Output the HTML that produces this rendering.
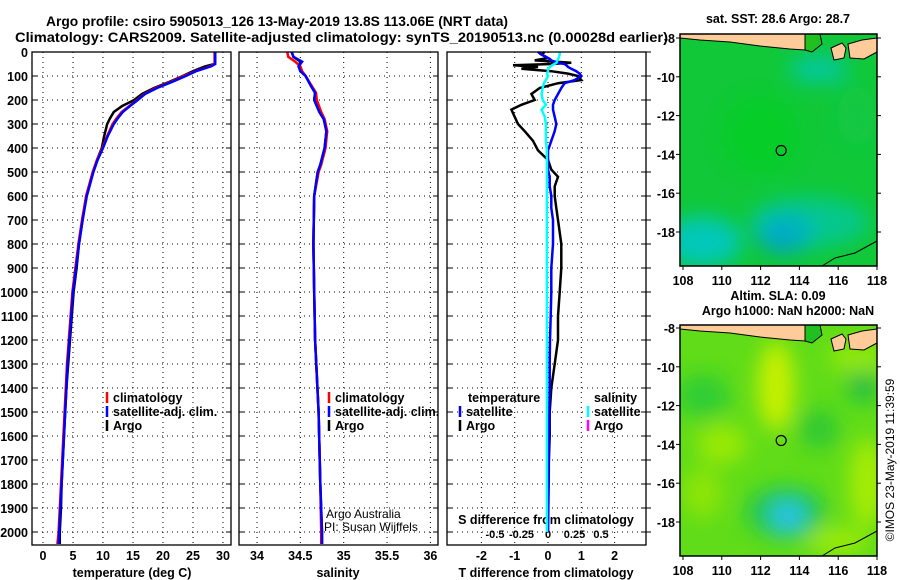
<!DOCTYPE html>
<html><head><meta charset="utf-8"><style>
html,body{margin:0;padding:0;background:#fff;}
svg{display:block;font-family:"Liberation Sans",sans-serif;}
.t{font-size:12.5px;font-weight:bold;fill:#000;}
.g{stroke:#000;stroke-width:1;stroke-dasharray:1,4;fill:none;}
</style></head><body>
<svg id="chart" width="900" height="580" viewBox="0 0 900 580" xmlns="http://www.w3.org/2000/svg">
<defs>
<clipPath id="c1"><rect x="680" y="34" width="197" height="232"/></clipPath>
<clipPath id="c2"><rect x="680" y="325" width="197" height="231"/></clipPath>
<filter id="bl" x="-50%" y="-50%" width="200%" height="200%"><feGaussianBlur stdDeviation="10"/></filter>
</defs>
<text class="t" x="277" y="26" text-anchor="middle" style="font-size:14px" textLength="462" lengthAdjust="spacingAndGlyphs">Argo profile: csiro 5905013_126 13-May-2019 13.8S 113.06E (NRT data)</text>
<text class="t" x="15" y="42" textLength="653" lengthAdjust="spacingAndGlyphs" style="font-size:14px">Climatology: CARS2009. Satellite-adjusted climatology: synTS_20190513.nc (0.00028d earlier)</text>
<g id="plots"></g>
<g id="maps"></g>
</svg>
<script>
// ---- data ----
const depthT = [0,20,40,50,60,80,100,125,150,175,200,225,250,275,300,350,400,450,500,600,700,800,900,1000,1100,1200,1300,1400,1500,1600,1700,1800,1900,2000,2050];
const climT = [28.6,28.6,28.6,28.6,27.8,25.4,23.5,21.3,18.8,16.9,15.7,14.4,13.1,12.3,11.6,10.7,9.9,9.0,8.3,7.2,6.5,5.9,5.4,4.9,4.6,4.3,4.0,3.8,3.6,3.4,3.2,3.0,2.8,2.6,2.4];
const satT = [28.7,28.7,28.7,28.7,28.0,25.5,23.8,21.5,19.0,17.0,15.8,14.5,13.3,12.5,11.8,10.8,10.0,9.1,8.4,7.3,6.6,6.0,5.5,5.0,4.7,4.4,4.1,3.9,3.7,3.5,3.3,3.1,2.9,2.7,2.6];
const argoT = [28.7,28.7,28.7,28.6,27.0,25.0,23.3,21.0,18.5,16.5,15.2,13.2,11.8,11.2,10.7,10.2,9.8,9.0,8.3,7.2,6.6,6.0,5.6,5.1,4.8,4.5,4.2,3.9,3.7,3.5,3.3,3.1,3.0,2.8,2.8];
const depthS = [0,20,40,60,80,100,140,170,200,250,280,330,400,470,500,600,800,1000,1200,1500,1800,2000,2050];
const climS = [34.35,34.36,34.44,34.5,34.52,34.56,34.63,34.68,34.69,34.74,34.78,34.81,34.79,34.74,34.71,34.66,34.65,34.66,34.67,34.71,34.73,34.74,34.74];
const satS = [34.4,34.42,34.52,34.48,34.5,34.56,34.62,34.67,34.66,34.72,34.77,34.8,34.78,34.73,34.7,34.66,34.65,34.66,34.67,34.71,34.73,34.75,34.75];
const argoS = [34.4,34.42,34.5,34.48,34.5,34.56,34.62,34.67,34.66,34.72,34.77,34.8,34.78,34.73,34.7,34.66,34.65,34.66,34.67,34.71,34.73,34.75,34.75];
const depthD = [0,10,25,35,45,50,55,62,70,80,90,100,117,130,150,175,200,220,240,270,300,330,370,410,450,490,520,560,600,650,700,800,900,1000,1100,1200,1300,1400,1500,1600,1800,2000];
const argoTd = [-0.1,-0.2,0.0,-0.4,0.7,0.1,-1.05,-0.3,-0.8,0.1,0.6,0.9,1.0,0.3,-0.25,-0.5,-0.4,-0.8,-1.1,-1.0,-0.9,-0.7,-0.45,-0.3,0.0,0.1,0.3,0.2,0.2,0.25,0.3,0.4,0.4,0.35,0.3,0.3,0.2,0.1,0.05,0.05,0.0,0.0];
const satTd = [-0.3,-0.2,0.0,0.1,0.3,0.5,0.55,0.6,0.7,0.85,0.95,1.0,0.8,0.5,0.4,0.3,0.2,0.15,0.15,0.2,0.25,0.2,0.1,0.0,0.0,0.0,0.05,0.05,0.1,0.1,0.15,0.15,0.1,0.1,0.08,0.06,0.05,0.05,0.04,0.03,0.02,0.0];
const argoSd = [0.11,0.11,0.1,0.09,0.08,0.06,0.04,0.02,0.0,0.0,-0.01,0.0,-0.02,-0.04,-0.05,-0.06,-0.05,-0.02,-0.06,-0.03,-0.02,-0.02,-0.02,-0.01,-0.01,-0.01,-0.01,-0.01,-0.01,-0.01,-0.01,-0.01,-0.01,-0.01,-0.01,-0.01,-0.01,-0.01,-0.01,-0.01,-0.01,-0.01];
const depthTicks = [0,100,200,300,400,500,600,700,800,900,1000,1100,1200,1300,1400,1500,1600,1700,1800,1900,2000];
const tempTicks = [0,5,10,15,20,25,30];
const salTicks = [34,34.5,35,35.5,36];
const tdTicks = [-2,-1,0,1,2];
const sdTicks = [-0.5,-0.25,0,0.25,0.5];
const sdTickLabels = ["-0.5","-0.25","0","0.25","0.5"];
const latTicks = [-8,-10,-12,-14,-16,-18];
const lonTicks = [108,110,112,114,116,118];
const argoLon = 113.06, argoLat = -13.8;

const NS="http://www.w3.org/2000/svg";
function mk(tag, attrs, parent, txt){const e=document.createElementNS(NS,tag);for(const k in attrs)e.setAttribute(k,attrs[k]);if(txt!==undefined)e.textContent=txt;parent.appendChild(e);return e;}
const P=document.getElementById('plots');
const yD = d => 52 + d*0.24;
const xT = v => 43 + v*6;
const xS = v => 257 + (v-34)*86.7;
const xTd = v => 548 + v*33.3;
const xSd = v => 548 + v*106;
const panels=[[32,231],[239,438],[447,646]];
const TOP=52,BOT=545;

panels.forEach((p,i)=>{
  depthTicks.forEach(d=>{ if(d>0){const l=mk('line',{x1:p[0],x2:p[1],y1:yD(d),y2:yD(d),class:'g'},P);
    
    }
    const tk=mk('line',{x1:p[0],x2:p[0]+5,y1:yD(d),y2:yD(d),stroke:'#000'},P);
    
    
    const tk2=mk('line',{x1:p[1]-5,x2:p[1]+(i==2?5:0),y1:yD(d),y2:yD(d),stroke:'#000'},P);
    
    
  });
});
function vgrid(ticks,fx,p){ticks.forEach(v=>{const l=mk('line',{x1:fx(v),x2:fx(v),y1:TOP,y2:BOT,class:'g'},P);
  
  });}
vgrid(tempTicks,xT);vgrid(salTicks,xS);vgrid(tdTicks,xTd);
depthTicks.forEach(d=>{const t=mk('text',{x:28,y:yD(d)+5,'text-anchor':'end',class:'t'},P,String(d));
  
  });
function xlab(ticks,fx,labels,y,fs){ticks.forEach((v,i)=>{const t=mk('text',{x:fx(v),y:y,'text-anchor':'middle',class:'t'},P,labels?labels[i]:String(v));
  if(fs)t.setAttribute('style','font-size:'+fs+'px');
  
  });}
xlab(tempTicks,xT,null,560);xlab(salTicks,xS,null,560);xlab(tdTicks,xTd,null,560);xlab(sdTicks,xSd,sdTickLabels,538,11);
[['temperature (deg C)',132,'x-axis-title-temperature'],['salinity',338,'x-axis-title-salinity'],['T difference from climatology',546,'x-axis-title-t-difference']].forEach(a=>{
  const t=mk('text',{x:a[1],y:577,'text-anchor':'middle',class:'t'},P,a[0]);
  
  });
const st=mk('text',{x:546,y:524,'text-anchor':'middle',class:'t'},P,'S difference from climatology');



function series(depths,vals,fx,color,w,name){let pts=[];depths.forEach((d,i)=>{if(vals[i]!==null)pts.push(fx(vals[i]).toFixed(1)+','+yD(Math.min(d,2054)).toFixed(1));});
  const l=mk('polyline',{points:pts.join(' '),fill:'none',stroke:color,'stroke-width':w,'stroke-linejoin':'miter'},P);
  
  }
series(depthT,argoT,xT,'#000',2.5,'temperature-argo-line');
series(depthT,climT,xT,'#ff0000',2.5,'temperature-climatology-line');
series(depthT,satT,xT,'#0000ff',2.5,'temperature-satellite-line');
series(depthS,argoS,xS,'#000',2.5,'salinity-argo-line');
series(depthS,climS,xS,'#ff0000',2.5,'salinity-climatology-line');
series(depthS,satS,xS,'#0000ff',2.5,'salinity-satellite-line');
series(depthD,argoTd,xTd,'#000',2.5,'t-diff-argo-line');
series(depthD,satTd,xTd,'#0000ff',2.5,'t-diff-satellite-line');
series(depthD,argoSd,xSd,'#00ffff',2.5,'s-diff-argo-line');

panels.forEach(p=>{const r=mk('rect',{x:p[0],y:TOP,width:p[1]-p[0],height:BOT-TOP,fill:'none',stroke:'#000','stroke-width':1.3},P);
  
  });

function legend(x,y,items,name){items.forEach((it,i)=>{
  const m=mk('line',{x1:x,x2:x,y1:y+i*14-6,y2:y+i*14+5,stroke:it[1],'stroke-width':2.5},P);
  
  
  const t=mk('text',{x:x+6,y:y+i*14+4,class:'t'},P,it[0]);
  
  });}
legend(107,398,[['climatology','#ff0000'],['satellite-adj. clim.','#0000ff'],['Argo','#000']],'temperature-legend');
legend(329,398,[['climatology','#ff0000'],['satellite-adj. clim.','#0000ff'],['Argo','#000']],'salinity-legend');
const lt=mk('text',{x:468,y:402,class:'t'},P,'temperature');


const ls=mk('text',{x:594,y:402,class:'t'},P,'salinity');


legend(460,412,[['satellite','#0000ff'],['Argo','#000']],'t-diff-legend');
legend(588,412,[['satellite','#00ffff'],['Argo','#ff00ff']],'s-diff-legend');
const c1=mk('text',{x:326,y:518,'font-size':12,fill:'#000'},P,'Argo Australia');


const c2=mk('text',{x:324,y:531,'font-size':12,fill:'#000'},P,'PI: Susan Wijffels');



const M=document.getElementById('maps');
function map(top,bot,latTop,clipId,base,blobs,name,title1,title2){
  const x0=680,x1=877;
  const lonX=v=>683+(v-108)*19.4;
  const latY=v=>latTop+(-8-v)*19.4;
  const g=mk('g',{'clip-path':'url(#'+clipId+')'},M);
  
  
  mk('rect',{x:x0,y:top,width:x1-x0,height:bot-top,fill:base},g);
  const bg=mk('g',{filter:'url(#bl)'},g);
  blobs.forEach(b=>mk('ellipse',{cx:lonX(b[0]),cy:latY(b[1]),rx:b[2],ry:b[3],fill:b[4],opacity:b[5]},bg));
  const land=mk('polygon',{points:`680,${top} 805,${top} 805,${top+16} 790,${top+15} 760,${top+12} 730,${top+8} 700,${top+6} 680,${top+4}`,fill:'#ffcc99',stroke:'#000','stroke-width':1},g);
  
  
  mk('polygon',{points:`805,${top} 820,${top} 822,${top+10} 812,${top+18} 805,${top+16}`,fill:'#20c020',stroke:'#000','stroke-width':1},g);
  const is1=mk('polygon',{points:`831,${top+14} 842,${top+9} 846,${top+14} 844,${top+24} 834,${top+26}`,fill:'#ffcc99',stroke:'#000','stroke-width':1},g);
  
  
  const is2=mk('polygon',{points:`848,${top+10} 862,${top+6} 877,${top+4} 877,${top+18} 864,${top+25} 850,${top+24}`,fill:'#ffcc99',stroke:'#000','stroke-width':1},g);
  
  
  mk('polyline',{points:`822,${bot} 835,${bot-8} 855,${bot-13} 877,${bot-25}`,fill:'none',stroke:'#000','stroke-width':1},g);
  const fr=mk('rect',{x:x0,y:top,width:x1-x0,height:bot-top,fill:'none',stroke:'#000','stroke-width':1.5},M);
  
  
  const ci=mk('circle',{cx:lonX(argoLon),cy:latY(argoLat),r:5,fill:'none',stroke:'#000','stroke-width':1.2},M);
  
  
  latTicks.forEach(v=>{mk('line',{x1:x0-4,x2:x0,y1:latY(v),y2:latY(v),stroke:'#000'},M);
    mk('line',{x1:x1,x2:x1+4,y1:latY(v),y2:latY(v),stroke:'#000'},M);
    const t=mk('text',{x:x0-5,y:latY(v)+5,'text-anchor':'end',class:'t'},M,String(v));
    
    });
  lonTicks.forEach(v=>{mk('line',{x1:lonX(v),x2:lonX(v),y1:bot,y2:bot+4,stroke:'#000'},M);
    const t=mk('text',{x:lonX(v),y:bot+19,'text-anchor':'middle',class:'t'},M,String(v));
    
    });
  const t1=mk('text',{x:778,y:title2?top-25:top-11,'text-anchor':'middle',class:'t'},M,title1);
  
  
  if(title2){const t2=mk('text',{x:788,y:top-10,'text-anchor':'middle',class:'t'},M,title2);
    
    }
}
map(34,266,38,'c1','#10c838',[[109,-18.5,40,25,'#00c8c8',0.9],[113.3,-18,30,20,'#0090e8',1],[113.3,-18,12,10,'#0060e0',1],[114.5,-17.5,60,25,'#00c8b0',0.7],[115,-9.6,30,14,'#00c8b8',0.8],[112,-13,40,40,'#00d020',0.6],[117,-12,20,30,'#10c850',0.5]],'sst-map','sat. SST: 28.6 Argo: 28.7');
map(325,556,328,'c2','#60dc18',[[112.8,-11,18,45,'#c8f000',1],[110,-14,25,20,'#a8ec00',0.8],[109,-16.5,20,25,'#a0e800',0.7],[117,-9.5,30,15,'#b0f000',0.6],[117.5,-16,18,45,'#b8f000',0.8],[116,-19,30,15,'#b0f000',0.7],[109,-11.5,28,22,'#20c840',0.7],[117.3,-11,16,16,'#10b850',0.8],[115,-13.2,20,20,'#20c040',0.7],[113.3,-17.5,40,26,'#10c060',0.8],[113.4,-17.7,20,18,'#20c8d8',1],[113.4,-17.7,8,8,'#30b8f0',1]],'sla-map','Altim. SLA: 0.09','Argo h1000: NaN h2000: NaN');
const ts=mk('text',{x:894,y:460,'text-anchor':'middle','font-size':12,fill:'#000',transform:'rotate(-90 894 460)'},M,'©IMOS 23-May-2019 11:39:59');


</script>
</body></html>
